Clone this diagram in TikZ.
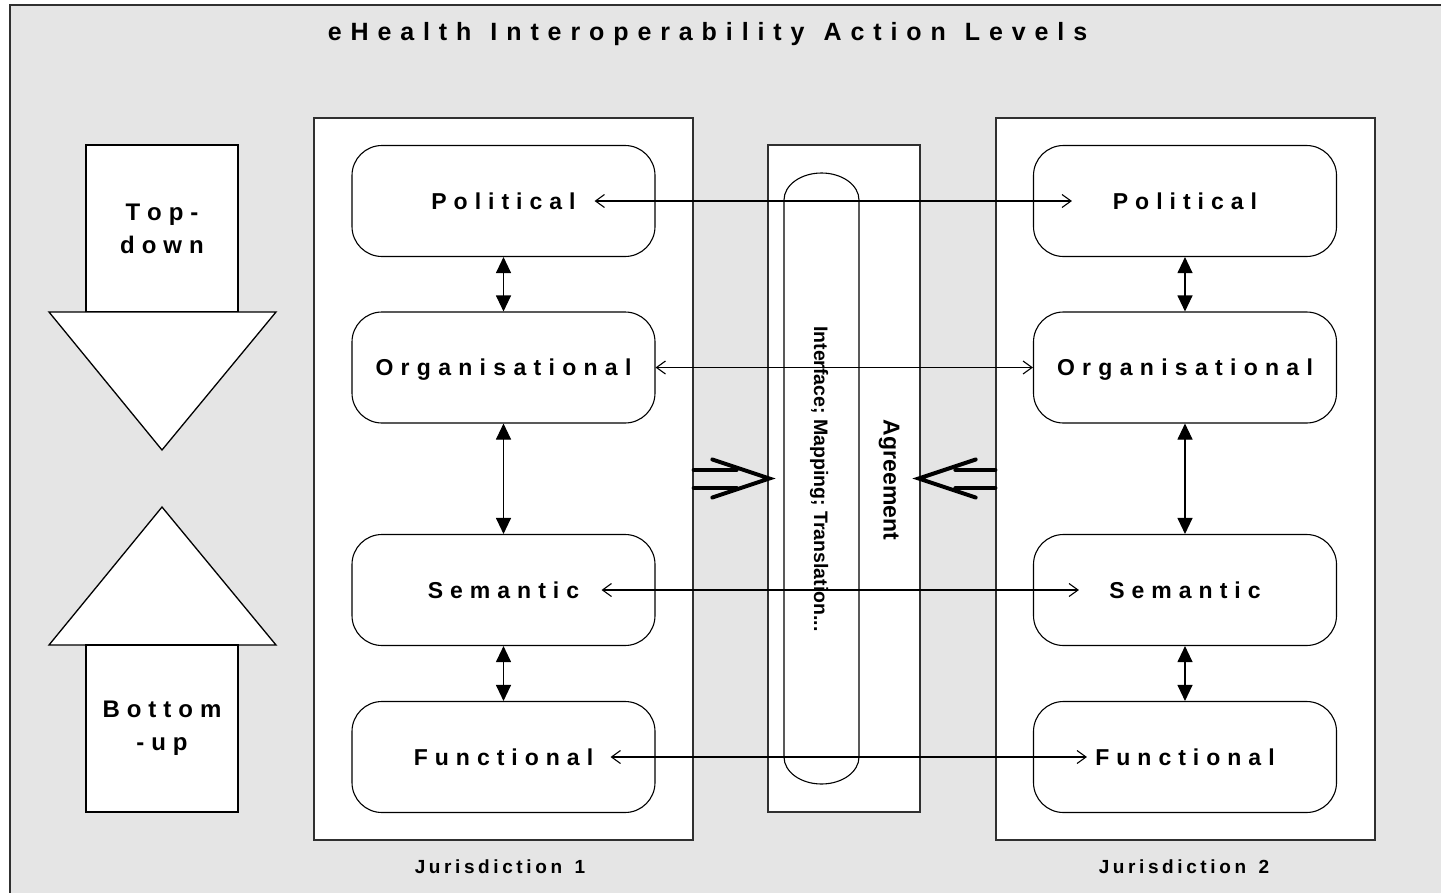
\documentclass[tikz,border=0pt]{standalone}
\usepackage{fontspec}
\setmainfont{Liberation Sans}
\usetikzlibrary{arrows.meta,positioning}
\definecolor{panelgray}{HTML}{E5E5E5}
\definecolor{edgegray}{HTML}{303030}
% letter-spaced word: \spaced{gap}{word}
\makeatletter
\newcommand\spaced[2]{\@tfor\sp@char:=#2\do{\sp@char\kern#1}\unkern}
\makeatother

\begin{document}
\begin{tikzpicture}[x=1pt, y=-1pt,
  frame/.style={draw=edgegray, line width=1.5pt, fill=panelgray},
  jurbox/.style={draw=edgegray, line width=1.3pt, fill=white, minimum width=379pt, minimum height=722pt},
  midbox/.style={draw=edgegray, line width=1.3pt, fill=white, minimum width=152pt, minimum height=667pt},
  levelbox/.style={draw, line width=1.1pt, fill=white, rounded corners=30pt, minimum width=303pt, minimum height=111pt, text height=16.5pt, text depth=0pt, font=\bfseries\fontsize{23}{27}\selectfont},
  dirbox/.style={draw, line width=1.3pt, fill=white, minimum width=152pt, minimum height=167pt, align=center, font=\bfseries\fontsize{24}{33}\selectfont},
  dirhead/.style={draw, line width=1.3pt, fill=white, line join=miter},
  jurlabel/.style={font=\bfseries\fontsize{19}{23}\selectfont},
  vlink/.style={line width=1.1pt, {Triangle[length=16pt,width=15pt]}-{Triangle[length=16pt,width=15pt]}},
  hlink/.style={line width=1.1pt, {Straight Barb[length=9pt,width=13pt]}-{Straight Barb[length=9pt,width=13pt]}},
  fatarrow/.style={line width=4pt, line cap=round, line join=miter},
  ]
  \useasboundingbox (0,0) rectangle (1441,892);

  % Frame
  \draw[frame] (10,5) rectangle (1470,920);

  % Title
  \node[font=\bfseries\fontsize{25}{30}\selectfont] (title) at (707.5,34)
    {\spaced{8.9pt}{eHealth}\hspace{19pt}\spaced{8.9pt}{Interoperability}\hspace{19pt}\spaced{8.9pt}{Action}\hspace{19pt}\spaced{8.9pt}{Levels}};

  % Top-down / Bottom-up
  \node[dirbox] (topdown) at (162,228.5) {\spaced{7pt}{Top-}\\\spaced{7pt}{down}};
  \draw[dirhead] (49,312) -- (276,312) -- (162,450) -- cycle;
  \draw[dirhead] (49,645) -- (276,645) -- (162,507) -- cycle;
  \node[dirbox] (bottomup) at (162,728.5) {\spaced{7pt}{Bottom}\\\spaced{7pt}{-up}};

  % Jurisdictions
  \node[jurbox] (jur1) at (503.5,479) {};
  \node[jurbox] (jur2) at (1185.5,479) {};
  \node[jurlabel] (jurlab1) at (500,867) {\spaced{3.6pt}{Jurisdiction}\hspace{12.5pt}1};
  \node[jurlabel] (jurlab2) at (1184,867) {\spaced{3.6pt}{Jurisdiction}\hspace{12.5pt}2};

  % Agreement
  \node[midbox] (mid) at (844,478.5) {};
  \draw[line width=1.1pt, fill=white] (784,200)
    arc[start angle=180, end angle=360, x radius=37.5, y radius=27] -- (859,757)
    arc[start angle=0, end angle=180, x radius=37.5, y radius=27] -- cycle;
  \node[rotate=-90, font=\bfseries\fontsize{19.5}{23}\selectfont] (maptext) at (819,479) {Interface; Mapping; Translation...};
  \node[rotate=-90, font=\bfseries\fontsize{23}{27}\selectfont] (agree) at (889,480) {Agreement};

  % Level boxes
  \foreach \col/\x in {1/503.5, 2/1185} {
    \node[levelbox] (pol\col) at (\x,201) {\spaced{7pt}{Political}};
    \node[levelbox] (org\col) at (\x,367.5) {\spaced{7.3pt}{Organisational}};
    \node[levelbox] (sem\col) at (\x,590) {\spaced{7pt}{Semantic}};
    \node[levelbox] (fun\col) at (\x,757) {\spaced{7pt}{Functional}};
    \draw[vlink] (pol\col) -- (org\col);
    \draw[vlink] (org\col) -- (sem\col);
    \draw[vlink] (sem\col) -- (fun\col);
  }

  % Links between jurisdictions
  \draw[hlink] ([xshift=-61pt]pol1.east) -- ([xshift=39pt]pol2.west);
  \draw[hlink] (org1.east) -- (org2.west);
  \draw[hlink] ([xshift=-54pt]sem1.east) -- ([xshift=46pt]sem2.west);
  \draw[hlink] ([xshift=-45pt]fun1.east) -- ([xshift=54pt]fun2.west);

  % Fat arrows
  \draw[fatarrow] ([yshift=9pt]jur1.east) -- ++(43,0);
  \draw[fatarrow] ([yshift=-9pt]jur1.east) -- ++(43,0);
  \draw[fatarrow] ([shift={(-55,-19)}]mid.west) -- ([xshift=2pt]mid.west) -- ([shift={(-55,19)}]mid.west);
  \draw[fatarrow] ([yshift=9pt]jur2.west) -- ++(-40,0);
  \draw[fatarrow] ([yshift=-9pt]jur2.west) -- ++(-40,0);
  \draw[fatarrow] ([shift={(55,-19)}]mid.east) -- ([xshift=-2pt]mid.east) -- ([shift={(55,19)}]mid.east);
\end{tikzpicture}
\end{document}
